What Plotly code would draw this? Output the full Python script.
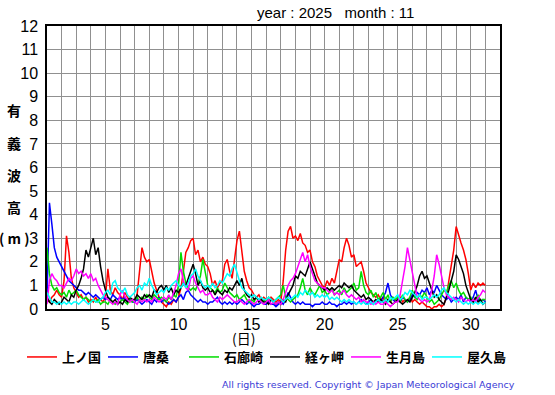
import plotly.graph_objects as go

# Significant wave height (m), Nov 2025, sampled every 4 hours (6 values per day), plus end point
stations = ["上ノ国", "唐桑", "石廊崎", "経ヶ岬", "生月島", "屋久島"]
colors = ["#ff0000", "#0000ff", "#00dd00", "#000000", "#ff00ff", "#00ffff"]

kaminokuni = [
    [0.4, 0.3, 0.5, 0.6, 0.8, 0.6], [0.5, 1.2, 3.1, 2.4, 1.3, 0.9], [0.7, 0.5, 0.6, 0.4, 0.5, 0.3],
    [0.4, 0.3, 0.5, 0.3, 0.4, 0.3], [0.5, 1.7, 0.8, 0.6, 0.9, 0.7], [0.6, 0.4, 0.7, 0.5, 0.3, 0.4],
    [0.3, 0.6, 1.5, 2.6, 2.2, 2.0], [2.1, 1.6, 1.1, 0.8, 0.5, 0.3], [0.2, 0.1, 0.3, 0.2, 0.4, 0.3],
    [0.5, 0.9, 1.6, 2.4, 2.6, 2.9], [3.0, 2.3, 2.5, 2.0, 2.2, 1.9], [1.8, 1.5, 1.0, 1.2, 0.9, 1.1],
    [1.2, 1.9, 2.1, 1.6, 1.3, 2.2], [2.9, 3.3, 2.3, 1.6, 1.2, 0.9], [0.8, 0.6, 0.5, 0.6, 0.4, 0.5],
    [0.4, 0.3, 0.5, 0.4, 0.3, 0.4], [0.3, 1.2, 2.5, 3.3, 3.5, 3.0], [3.1, 2.9, 3.2, 2.8, 2.7, 2.4],
    [2.5, 2.0, 1.8, 1.4, 1.2, 1.0], [0.9, 1.2, 1.0, 1.3, 1.1, 1.6], [2.1, 2.0, 2.6, 3.0, 2.7, 2.2],
    [2.3, 1.8, 1.9, 2.0, 1.6, 1.1], [0.9, 0.7, 0.6, 0.5, 0.6, 0.4], [0.5, 0.3, 0.4, 0.3, 0.5, 0.3],
    [0.4, 0.5, 0.3, 0.4, 0.3, 0.5], [0.3, 0.4, 0.3, 0.2, 0.3, 0.2], [0.1, 0.1, 0.0, 0.1, 0.1, 0.2],
    [0.1, 0.2, 0.5, 1.2, 1.8, 2.5], [3.5, 3.1, 2.8, 2.5, 2.1, 1.5], [0.8, 1.1, 0.9, 1.1, 1.0, 1.1],
    [1.0],
]
karakuwa = [
    [0.5, 4.5, 3.6, 2.6, 2.2, 2.0], [1.8, 1.6, 1.4, 1.2, 1.1, 1.0], [0.9, 0.8, 0.8, 0.7, 0.6, 0.7],
    [0.6, 0.5, 0.6, 0.5, 0.4, 0.5], [0.4, 0.5, 0.4, 0.6, 0.5, 0.4], [0.5, 0.4, 0.5, 0.3, 0.4, 0.3],
    [0.3, 0.4, 0.3, 0.2, 0.3, 0.4], [0.3, 0.2, 0.4, 0.3, 0.5, 0.3], [0.4, 0.3, 0.2, 0.3, 0.4, 0.3],
    [0.5, 0.6, 0.4, 0.7, 0.8, 0.6], [0.5, 0.4, 0.3, 0.4, 0.3, 0.3], [0.2, 0.3, 0.3, 0.4, 0.5, 0.3],
    [0.2, 0.3, 0.2, 0.3, 0.2, 0.3], [0.2, 0.3, 0.4, 0.3, 0.2, 0.3], [0.2, 0.1, 0.2, 0.2, 0.3, 0.2],
    [0.2, 0.3, 0.2, 0.2, 0.1, 0.2], [0.3, 0.2, 0.4, 0.7, 0.5, 0.3], [0.2, 0.3, 0.2, 0.3, 0.2, 0.2],
    [0.2, 0.1, 0.2, 0.2, 0.2, 0.3], [0.2, 0.2, 0.3, 0.2, 0.2, 0.1], [0.2, 0.2, 0.3, 0.2, 0.3, 0.2],
    [0.3, 0.2, 0.3, 0.4, 0.3, 0.2], [0.3, 0.4, 0.2, 0.3, 0.4, 0.3], [0.5, 0.7, 1.1, 0.6, 0.4, 0.3],
    [0.4, 0.3, 0.5, 0.4, 0.3, 0.4], [0.6, 0.5, 0.7, 0.6, 0.8, 0.7], [0.9, 0.6, 0.8, 0.7, 1.0, 0.8],
    [0.6, 0.5, 0.4, 0.5, 0.3, 0.4], [0.5, 0.4, 0.6, 0.3, 0.5, 0.4], [0.3, 0.5, 0.8, 0.4, 0.3, 0.4],
    [0.3],
]
irozaki = [
    [2.6, 1.5, 1.0, 0.8, 0.9, 0.7], [0.6, 0.7, 0.5, 0.8, 0.6, 0.7], [0.8, 0.6, 0.5, 0.4, 0.5, 0.4],
    [0.3, 0.4, 0.3, 0.4, 0.2, 0.3], [0.3, 0.2, 0.4, 0.3, 0.2, 0.3], [0.3, 0.4, 0.3, 0.2, 0.4, 0.3],
    [0.4, 0.5, 0.3, 0.5, 0.4, 0.6], [0.5, 0.4, 0.6, 0.5, 0.4, 0.5], [0.4, 0.3, 0.5, 0.4, 0.6, 0.5],
    [1.0, 2.4, 1.6, 1.1, 0.9, 0.8], [0.9, 0.8, 1.1, 1.4, 2.1, 1.6], [1.0, 0.9, 0.8, 0.7, 0.9, 0.7],
    [0.8, 1.1, 0.9, 0.7, 0.6, 0.5], [0.6, 0.4, 0.5, 0.6, 0.4, 0.3], [0.4, 0.3, 0.5, 0.4, 0.3, 0.4],
    [0.3, 0.5, 0.4, 0.3, 0.4, 0.5], [0.6, 1.0, 0.5, 0.4, 0.3, 0.4], [0.5, 0.6, 0.9, 1.3, 0.8, 0.6],
    [0.9, 0.7, 0.6, 0.8, 1.0, 0.7], [0.8, 0.6, 0.7, 0.9, 0.6, 0.7], [0.8, 0.6, 0.9, 0.7, 0.8, 0.9],
    [1.1, 0.8, 0.9, 1.6, 1.0, 0.7], [0.6, 0.8, 0.5, 0.7, 0.4, 0.5], [0.7, 0.4, 0.6, 0.3, 0.5, 0.4],
    [0.5, 0.3, 0.6, 0.4, 0.3, 0.5], [0.8, 0.5, 0.4, 0.6, 0.5, 0.7], [0.5, 0.3, 0.4, 0.2, 0.3, 0.4],
    [0.6, 0.8, 0.7, 1.0, 1.2, 0.9], [1.1, 0.8, 0.6, 0.7, 0.5, 0.4], [0.5, 0.3, 0.4, 0.6, 0.3, 0.4],
    [0.4],
]
kyogamisaki = [
    [0.5, 0.3, 0.2, 0.4, 0.3, 0.2], [0.3, 0.5, 0.4, 0.3, 0.6, 0.5], [0.8, 1.0, 1.3, 1.7, 2.5, 2.2],
    [2.6, 3.0, 2.3, 2.6, 1.8, 1.2], [0.8, 0.5, 0.4, 0.3, 0.4, 0.2], [0.3, 0.2, 0.4, 0.3, 0.5, 0.4],
    [0.4, 0.6, 0.5, 0.4, 0.6, 0.5], [0.6, 0.5, 0.8, 0.7, 0.9, 1.0], [0.8, 1.0, 0.7, 0.9, 0.6, 0.8],
    [0.7, 0.9, 1.1, 1.0, 1.3, 1.6], [1.9, 1.5, 1.0, 1.2, 0.9, 0.8], [0.9, 0.7, 0.8, 0.6, 0.8, 0.7],
    [0.6, 0.8, 0.7, 0.9, 0.8, 1.0], [1.2, 1.0, 1.3, 0.8, 0.6, 0.5], [0.6, 0.4, 0.5, 0.3, 0.4, 0.3],
    [0.3, 0.2, 0.4, 0.3, 0.2, 0.3], [0.2, 0.4, 0.3, 0.6, 0.8, 1.0], [1.4, 1.3, 1.6, 1.5, 1.4, 1.7],
    [2.0, 1.7, 1.4, 1.1, 1.0, 0.9], [0.8, 0.9, 0.8, 0.9, 0.8, 0.9], [1.0, 0.9, 1.1, 1.0, 0.9, 1.0],
    [0.8, 0.7, 0.6, 0.5, 0.6, 0.4], [0.5, 0.4, 0.3, 0.4, 0.3, 0.4], [0.3, 0.2, 0.4, 0.3, 0.2, 0.3],
    [0.4, 0.3, 0.2, 0.3, 0.4, 0.3], [0.5, 0.7, 1.0, 1.4, 1.6, 1.3], [1.4, 1.1, 0.8, 0.5, 0.6, 0.4],
    [0.3, 0.2, 0.5, 0.8, 1.2, 1.6], [2.3, 2.1, 1.8, 1.5, 1.0, 0.7], [0.4, 0.3, 0.5, 0.3, 0.4, 0.2],
    [0.3],
]
ikitsukishima = [
    [0.2, 1.2, 1.5, 1.3, 1.2, 1.0], [1.0, 0.9, 1.1, 1.3, 1.2, 1.4], [1.7, 1.5, 1.6, 1.4, 1.5, 1.3],
    [1.5, 1.2, 1.3, 1.0, 0.8, 0.6], [0.5, 0.4, 0.3, 0.2, 0.3, 0.2], [0.6, 0.8, 0.5, 0.4, 0.3, 0.4],
    [0.3, 0.2, 0.4, 0.3, 0.4, 0.3], [0.4, 0.3, 0.5, 0.4, 0.3, 0.4], [0.5, 0.4, 0.6, 0.4, 0.7, 1.0],
    [1.5, 1.7, 1.2, 0.9, 0.8, 1.3], [1.4, 1.1, 0.9, 0.7, 0.8, 0.6], [0.6, 0.7, 0.5, 0.4, 0.3, 0.5],
    [0.4, 0.5, 0.6, 0.5, 0.4, 0.3], [0.3, 0.4, 0.3, 0.2, 0.3, 0.4], [0.3, 0.2, 0.3, 0.4, 0.3, 0.2],
    [0.3, 0.4, 0.2, 0.3, 0.2, 0.3], [0.2, 0.4, 0.7, 1.0, 1.2, 1.3], [1.5, 1.8, 2.1, 2.4, 2.0, 2.3],
    [1.8, 1.5, 1.2, 1.1, 1.0, 0.9], [0.9, 0.8, 0.7, 0.8, 0.6, 0.7], [0.6, 0.7, 0.8, 0.6, 0.5, 0.6],
    [0.5, 0.4, 0.5, 0.3, 0.4, 0.3], [0.3, 0.2, 0.3, 0.2, 0.3, 0.2], [0.2, 0.3, 0.2, 0.1, 0.2, 0.3],
    [0.3, 0.6, 1.2, 1.8, 2.6, 2.1], [1.6, 1.0, 0.5, 0.4, 0.3, 0.4], [0.3, 0.4, 0.8, 1.4, 2.3, 1.9],
    [1.4, 0.9, 0.6, 0.5, 0.4, 0.5], [0.4, 0.3, 0.5, 0.4, 0.3, 0.4], [0.3, 0.4, 0.3, 0.5, 0.6, 0.8],
    [0.7],
]
yakushima = [
    [0.7, 0.5, 0.3, 0.3, 0.2, 0.3], [0.2, 0.3, 0.2, 0.3, 0.2, 0.3], [0.3, 0.2, 0.3, 0.4, 0.3, 0.2],
    [0.3, 0.4, 0.3, 0.3, 0.4, 0.5], [0.7, 0.8, 0.6, 1.1, 1.2, 0.9], [0.8, 0.7, 0.9, 0.6, 0.5, 0.6],
    [0.7, 0.9, 1.0, 0.8, 1.1, 1.0], [1.3, 1.0, 0.8, 0.6, 0.7, 0.8], [0.7, 0.9, 0.8, 1.0, 1.1, 1.2],
    [1.0, 0.9, 1.1, 0.9, 1.1, 1.4], [1.5, 1.7, 1.4, 1.2, 1.0, 0.9], [1.0, 0.9, 1.1, 0.9, 1.0, 1.2],
    [1.1, 1.3, 1.5, 1.4, 1.7, 1.9], [1.5, 1.2, 0.9, 0.8, 0.7, 0.6], [0.5, 0.6, 0.5, 0.4, 0.5, 0.4],
    [0.4, 0.5, 0.4, 0.3, 0.4, 0.5], [0.4, 0.3, 0.4, 0.5, 0.4, 0.5], [0.6, 0.5, 0.7, 0.6, 0.8, 0.7],
    [0.6, 0.7, 0.5, 0.6, 0.5, 0.6], [0.5, 0.6, 0.4, 0.5, 0.4, 0.5], [0.4, 0.3, 0.4, 0.3, 0.4, 0.3],
    [0.3, 0.2, 0.3, 0.2, 0.3, 0.2], [0.2, 0.3, 0.2, 0.3, 0.4, 0.3], [0.3, 0.4, 0.3, 0.5, 0.4, 0.5],
    [0.6, 0.4, 0.5, 0.7, 0.6, 0.8], [0.7, 0.6, 0.5, 0.6, 0.4, 0.5], [0.5, 0.4, 0.5, 0.6, 0.5, 0.6],
    [0.8, 0.9, 0.7, 0.6, 0.5, 0.4], [0.3, 0.4, 0.3, 0.2, 0.3, 0.2], [0.3, 0.2, 0.3, 0.2, 0.3, 0.2],
    [0.3],
]

series = [kaminokuni, karakuwa, irozaki, kyogamisaki, ikitsukishima, yakushima]

x_tick_vals = list(range(1, 33))
x_tick_text = [str(d) if d % 5 == 0 and d <= 30 else "" for d in x_tick_vals]
y_tick_vals = list(range(0, 13))


def flatten(rows):
    return [v for row in rows for v in row]


# time axis: day-of-month + fraction of day (4-hourly samples)
times = [d + k / 6 for d in range(1, 31) for k in range(6)] + [31.0]

fig = go.Figure()
for name, col, rows in zip(stations, colors, series):
    fig.add_trace(go.Scatter(x=times, y=flatten(rows), mode="lines", name="<b>" + name + "</b>",
                             line=dict(color=col, width=1.5)))

W, H = 555, 395
L, R, T, B = 47, 55, 26, 86
pw, ph = W - L - R, H - T - B


def px(xp):
    return (xp - L) / pw


def py(yp):
    return (H - B - yp) / ph


num_font = dict(family="Liberation Sans, Arial, sans-serif", size=16, color="#000000")
cjk = "Noto Sans CJK JP, sans-serif"

fig.update_layout(
    width=W, height=H,
    margin=dict(l=L, r=R, t=T, b=B, pad=0),
    paper_bgcolor="#ffffff", plot_bgcolor="#ffffff",
    showlegend=True,
    legend=dict(orientation="h", x=px(22), xanchor="left", y=py(357), yanchor="middle",
                font=dict(family=cjk, size=13, color="#000000"),
                entrywidthmode="pixels", entrywidth=36, itemwidth=30,
                bgcolor="rgba(0,0,0,0)", borderwidth=0, tracegroupgap=0),
    xaxis=dict(range=[1, 32], tickvals=x_tick_vals, ticktext=x_tick_text,
               showgrid=True, gridcolor="#909090", gridwidth=1,
               showline=True, linecolor="#000000", linewidth=1.5, mirror=True,
               ticks="", tickfont=num_font, zeroline=False, fixedrange=True),
    yaxis=dict(range=[0, 12], tickvals=y_tick_vals,
               showgrid=True, gridcolor="#909090", gridwidth=1,
               showline=True, linecolor="#000000", linewidth=1.5, mirror=True,
               ticks="", ticklabelstandoff=4, tickfont=num_font, zeroline=False, fixedrange=True),
)

ann = []
ann.append(dict(text="year : 2025\u00a0\u00a0\u00a0month : 11", x=px(335), y=py(12),
                xref="paper", yref="paper", showarrow=False, xanchor="center", yanchor="middle",
                font=dict(family="Liberation Sans, Arial, sans-serif", size=15, color="#000000")))
for ch, yy in zip(["有", "義", "波", "高"], [110, 143, 175, 207]):
    ann.append(dict(text="<b>" + ch + "</b>", x=px(14), y=py(yy), xref="paper", yref="paper",
                    showarrow=False, xanchor="center", yanchor="middle",
                    font=dict(family=cjk, size=14, color="#000000")))
ann.append(dict(text="<b>( m )</b>", x=px(14), y=py(238), xref="paper", yref="paper", showarrow=False,
                xanchor="center", yanchor="middle",
                font=dict(family=cjk, size=14, color="#000000")))
ann.append(dict(text="(日)", x=px(243), y=py(338), xref="paper", yref="paper", showarrow=False,
                xanchor="center", yanchor="middle",
                font=dict(family=cjk, size=14, color="#000000")))
ann.append(dict(text="All rights reserved. Copyright © Japan Meteorological Agency",
                x=px(517), y=py(384), xref="paper", yref="paper", showarrow=False,
                xanchor="right", yanchor="middle",
                font=dict(family="DejaVu Sans, sans-serif", size=9.5, color="#3b3bd6")))
fig.update_layout(annotations=ann)

fig.write_html("out.html", config={"displayModeBar": False},
               post_script="document.body.style.margin='0';document.body.style.padding='0';")
